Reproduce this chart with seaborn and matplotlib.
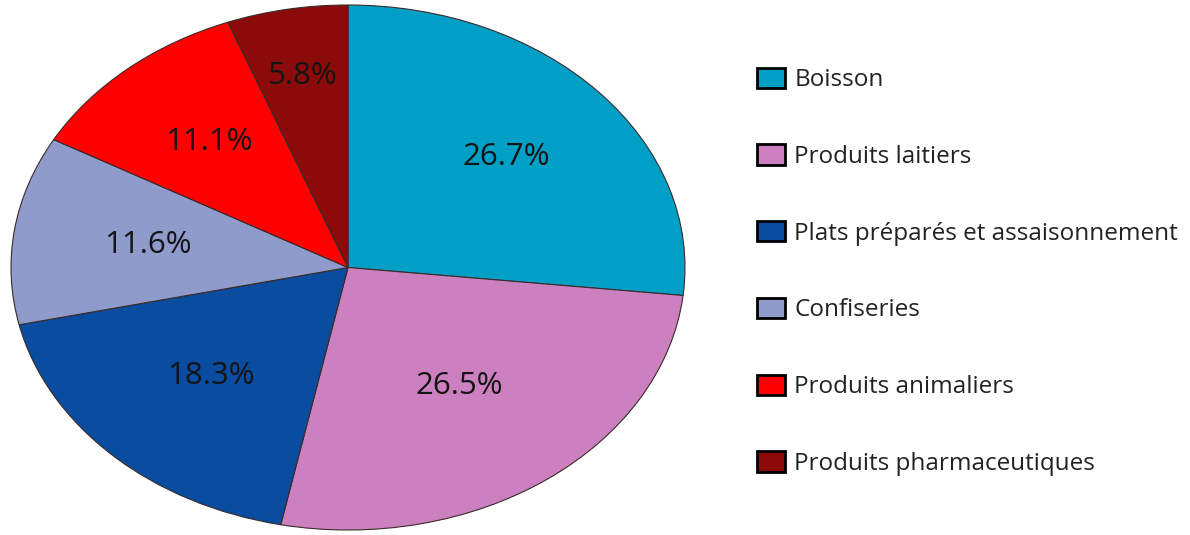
import matplotlib.pyplot as plt
import seaborn as sns

sns.set_theme(style="white")
plt.rcParams["font.family"] = ["Open Sans", "DejaVu Sans"]

categories = [
    "Boisson",
    "Produits laitiers",
    "Plats préparés et assaisonnement",
    "Confiseries",
    "Produits animaliers",
    "Produits pharmaceutiques",
]
shares = [26.7, 26.5, 18.3, 11.6, 11.1, 5.8]
colors = ["#00A0C6", "#CC80C0", "#0A4DA0", "#8E9BCB", "#FF0000", "#8B0A0A"]
# label distance from centre, as a fraction of the radius
label_dist = [0.63, 0.56, 0.58, 0.6, 0.63, 0.74]

fig = plt.figure(figsize=(11.9, 5.35), dpi=100)
# pie is stretched horizontally in the original, so use auto aspect
ax = fig.add_axes([11 / 1190, 5 / 535, 674 / 1190, 525 / 535])

wedges, texts, autotexts = ax.pie(
    shares,
    colors=colors,
    startangle=90,
    counterclock=False,
    autopct="%.1f%%",
    pctdistance=1.0,
    wedgeprops={"edgecolor": "#3a2a2a", "linewidth": 0.8},
    textprops={"fontsize": 22.5, "color": "#141414"},
)
for t, d in zip(autotexts, label_dist):
    x, y = t.get_position()
    t.set_position((x * d, y * d))
ax.set_aspect("auto")
ax.set_xlim(-1.0, 1.0)
ax.set_ylim(-1.0, 1.0)

fig.legend(
    wedges,
    categories,
    loc="upper left",
    bbox_to_anchor=(747 / 1190, 1 - 58 / 535),
    frameon=False,
    fontsize=17.5,
    labelcolor="#222222",
    labelspacing=2.15,
    handlelength=1.15,
    handleheight=0.9,
    handletextpad=0.4,
    borderaxespad=0,
)
for h in fig.legends[0].legend_handles:
    h.set_edgecolor("black")
    h.set_linewidth(2)

fig.savefig("out.png", dpi=100)
